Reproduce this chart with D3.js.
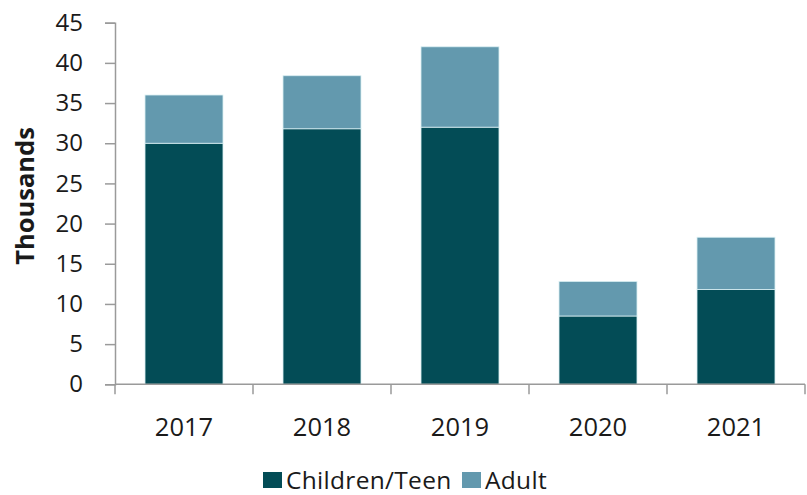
<!DOCTYPE html>
<html>
<head>
<meta charset="utf-8">
<script src="https://cdn.jsdelivr.net/npm/d3@7"></script>
<style>
  html, body { margin: 0; padding: 0; background: #ffffff; }
  svg { display: block; font-family: "Open Sans", Lato, sans-serif; }
</style>
</head>
<body>
<svg id="chart" width="807" height="495"></svg>
<script>
// Yearly counts in thousands
const years = ["2017", "2018", "2019", "2020", "2021"];
const childrenTeen = [30, 31.8, 32, 8.5, 11.8];
const adult = [6, 6.6, 10, 4.3, 6.5];
const yTicks = [0, 5, 10, 15, 20, 25, 30, 35, 40, 45];
const seriesNames = ["Children/Teen", "Adult"];
const seriesColors = ["#034c56", "#6399ae"];

const svg = d3.select("#chart");
const margin = { left: 115, right: 2, top: 22.7, bottom: 110.7 };
const width = 807, height = 495;

const rows = years.map((y, i) => ({ year: y, "Children/Teen": childrenTeen[i], "Adult": adult[i] }));
const stacked = d3.stack().keys(seriesNames)(rows);

const x = d3.scaleBand()
  .domain(years)
  .range([margin.left, width - margin.right])
  .paddingInner(0.435)
  .paddingOuter(0.2175);

const y = d3.scaleLinear()
  .domain([0, 45])
  .range([height - margin.bottom, margin.top]);

// Bars
svg.append("g")
  .selectAll("g")
  .data(stacked)
  .join("g")
  .attr("fill", (d, i) => seriesColors[i])
  .selectAll("rect")
  .data(d => d)
  .join("rect")
  .attr("x", d => x(d.data.year))
  .attr("width", x.bandwidth())
  .attr("y", d => y(d[1]))
  .attr("height", d => y(d[0]) - y(d[1]))
  .attr("stroke", "#d8eef2")
  .attr("stroke-width", 0.8);

// Y axis
const yAxis = svg.append("g")
  .attr("transform", `translate(${margin.left},0)`)
  .call(d3.axisLeft(y).tickValues(yTicks).tickSize(10).tickPadding(22));
yAxis.select(".domain").attr("stroke", "#9a9a9a").attr("stroke-width", 1.5);
yAxis.selectAll(".tick line").attr("stroke", "#9a9a9a").attr("stroke-width", 1.5);
yAxis.selectAll(".tick text")
  .attr("font-size", 24)
  .attr("fill", "#1a1a1a")
  .attr("font-family", "'Open Sans', sans-serif");

// X axis with ticks on category boundaries
const xAxisG = svg.append("g").attr("transform", `translate(0,${y(0)})`);
xAxisG.append("line")
  .attr("x1", margin.left).attr("x2", width - margin.right)
  .attr("y1", 0).attr("y2", 0)
  .attr("stroke", "#9a9a9a").attr("stroke-width", 1.5);
const step = x.step();
const boundaries = d3.range(years.length + 1).map(i => x(years[0]) - x.paddingOuter() * step + i * step);
xAxisG.selectAll("line.tk")
  .data(boundaries)
  .join("line")
  .attr("class", "tk")
  .attr("x1", d => d).attr("x2", d => d)
  .attr("y1", 0).attr("y2", 10)
  .attr("stroke", "#9a9a9a").attr("stroke-width", 1.5);
xAxisG.selectAll("text")
  .data(years)
  .join("text")
  .attr("x", d => x(d) + x.bandwidth() / 2)
  .attr("y", 52)
  .attr("text-anchor", "middle")
  .attr("font-size", 25.5)
  .attr("fill", "#1a1a1a")
  .text(d => d);

// Y axis title
svg.append("text")
  .attr("transform", "translate(34,196) rotate(-90)")
  .attr("text-anchor", "middle")
  .attr("font-size", 25.5)
  .attr("font-weight", "bold")
  .attr("fill", "#1a1a1a")
  .text("Thousands");

// Legend
const legendItems = [
  { name: seriesNames[0], color: seriesColors[0], x: 263 },
  { name: seriesNames[1], color: seriesColors[1], x: 462 }
];
const legend = svg.append("g");
legendItems.forEach(it => {
  legend.append("rect")
    .attr("x", it.x).attr("y", 472)
    .attr("width", 19).attr("height", 16)
    .attr("fill", it.color);
  legend.append("text")
    .attr("x", it.x + 23).attr("y", 489)
    .attr("font-size", 24.5)
    .attr("letter-spacing", 0.3)
    .attr("fill", "#1a1a1a")
    .text(it.name);
});
</script>
</body>
</html>
